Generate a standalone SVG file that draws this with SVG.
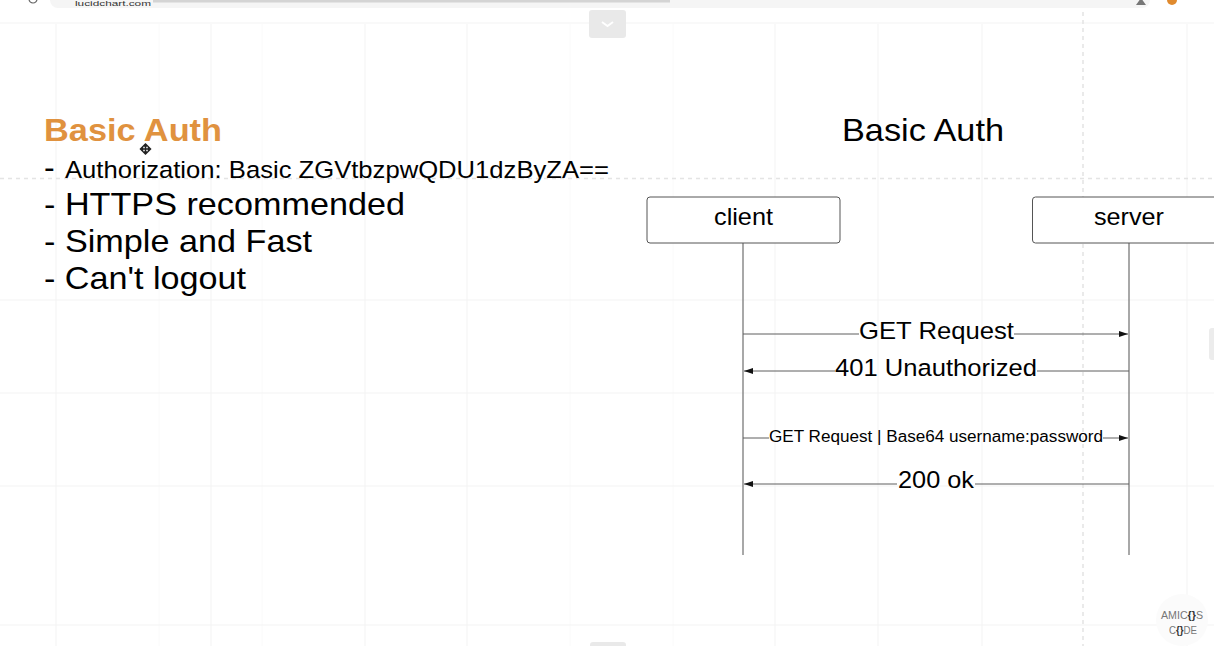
<svg xmlns="http://www.w3.org/2000/svg" width="1214" height="646" viewBox="0 0 1214 646">
<style>
text{font-family:"Liberation Sans",Arial,sans-serif;fill:#000}
.g{stroke:#f3f3f3;stroke-width:1;fill:none}
.g2{stroke:#fafafa;stroke-width:1;fill:none}
.d{stroke:#e4e4e4;stroke-width:1.5;stroke-dasharray:4 4;fill:none}
.life{stroke:#6f6f6f;stroke-width:1.2;fill:none}
.msg{stroke:#5f5f5f;stroke-width:1;fill:none}
.box{fill:#fff;stroke:#555;stroke-width:1}
</style>
<defs>
<marker id="ah" markerUnits="userSpaceOnUse" markerWidth="10" markerHeight="6" refX="9" refY="3" orient="auto-start-reverse"><path d="M0 0L9 3L0 6z" fill="#111"/></marker>
</defs>
<rect width="1214" height="646" fill="#fff"/>
<g id="grid">
<path class="g2" d="M159 24V646M262 24V646M570 24V646M673 24V646"/>
<path class="g" d="M56 24V646M211 24V646M365 24V646M467 24V646M775 24V646M878 24V646M982 24V646M1187 24V646"/>
<path class="g" d="M0 23H1214M0 300H1214M0 393H1214M0 486H1214M0 625H1214"/>
<path class="d" d="M0 178.500H1214"/>
<path class="d" d="M1083 12V646"/>
</g>
<g id="browser-bar">
<rect x="50" y="-12" width="1100" height="20" rx="8" fill="#f5f5f5"/>
<circle cx="33" cy="-1" r="4" fill="none" stroke="#666" stroke-width="1.2"/>
<text x="75" y="5.500" font-size="6.500" textLength="76" lengthAdjust="spacingAndGlyphs" style="fill:#333">lucidchart.com</text>
<rect x="153" y="0" width="517" height="2.500" fill="#d4d4d4"/>
<path d="M1141 -2L1146 5H1136z" fill="#777"/>
<circle cx="1172" cy="0" r="5" fill="#e08a2e"/>
</g>
<g id="collapse-tab">
<rect x="589" y="10" width="37" height="28" rx="3" fill="#e9e9e9"/>
<path d="M602 22L607.500 26L613 22" fill="none" stroke="#fff" stroke-width="2"/>
</g>
<g id="bottom-tab"><rect x="590" y="642" width="36" height="10" rx="3" fill="#e9e9e9"/></g>
<g id="right-tab"><rect x="1209" y="328" width="10" height="32" rx="3" fill="#ececec"/></g>
<g id="notes">
<text x="44" y="141" font-size="32" font-weight="700" textLength="178" lengthAdjust="spacingAndGlyphs" style="fill:#e0923f">Basic Auth</text>
<text x="44" y="178" font-size="32">-</text>
<text x="65" y="178" font-size="24.500" textLength="544" lengthAdjust="spacingAndGlyphs">Authorization: Basic ZGVtbzpwQDU1dzByZA==</text>
<text x="44" y="215" font-size="32" textLength="361" lengthAdjust="spacingAndGlyphs">- HTTPS recommended</text>
<text x="44" y="252" font-size="32" textLength="268" lengthAdjust="spacingAndGlyphs">- Simple and Fast</text>
<text x="44" y="289" font-size="32" textLength="202" lengthAdjust="spacingAndGlyphs">- Can't logout</text>
<path d="M145.500 144L143.500 146H147.500zM145.500 154L143.500 152H147.500zM140.500 149L142.500 147V151zM150.500 149L148.500 147V151zM145.500 146V152M142.500 149H148.500" fill="#222" stroke="#222" stroke-width="1.500"/>
</g>
<g id="title"><text x="842" y="141" font-size="32" textLength="162" lengthAdjust="spacingAndGlyphs">Basic Auth</text></g>
<g id="connectors">
<path class="life" d="M743 243V555M1129 243V555"/>
<path class="msg" d="M743 334H859M1014 334H1128" marker-end="url(#ah)"/>
<path class="msg" d="M1129 371H1037M835 371H744" marker-end="url(#ah)"/>
<path class="msg" d="M743 438H769M1103 438H1128" marker-end="url(#ah)"/>
<path class="msg" d="M1129 484H975M897 484H744" marker-end="url(#ah)"/>
</g>
<g id="client"><rect class="box" x="647" y="197" width="193" height="46" rx="3"/><text x="714" y="225" font-size="24" textLength="59" lengthAdjust="spacingAndGlyphs">client</text></g>
<g id="server"><rect class="box" x="1032.500" y="197" width="193" height="46" rx="3"/><text x="1094" y="225" font-size="24" textLength="70" lengthAdjust="spacingAndGlyphs">server</text></g>
<g id="labels">
<text x="859" y="339" font-size="24.500" textLength="155" lengthAdjust="spacingAndGlyphs">GET Request</text>
<text x="835" y="376" font-size="24.500" textLength="202" lengthAdjust="spacingAndGlyphs">401 Unauthorized</text>
<text x="769" y="442" font-size="16" textLength="334" lengthAdjust="spacingAndGlyphs">GET Request | Base64 username:password</text>
<text x="898" y="488" font-size="24.500" textLength="76" lengthAdjust="spacingAndGlyphs">200 ok</text>
</g>
<g id="watermark">
<circle cx="1182" cy="620" r="26" fill="#fbfbfb"/>
<text x="1161" y="619" font-size="11" textLength="42" lengthAdjust="spacingAndGlyphs" style="fill:#777">AMIC<tspan font-weight="700" style="fill:#333">{}</tspan>S</text>
<text x="1169" y="634" font-size="11" textLength="28" lengthAdjust="spacingAndGlyphs" style="fill:#777">C<tspan font-weight="700" style="fill:#333">{}</tspan>DE</text>
</g>
</svg>
